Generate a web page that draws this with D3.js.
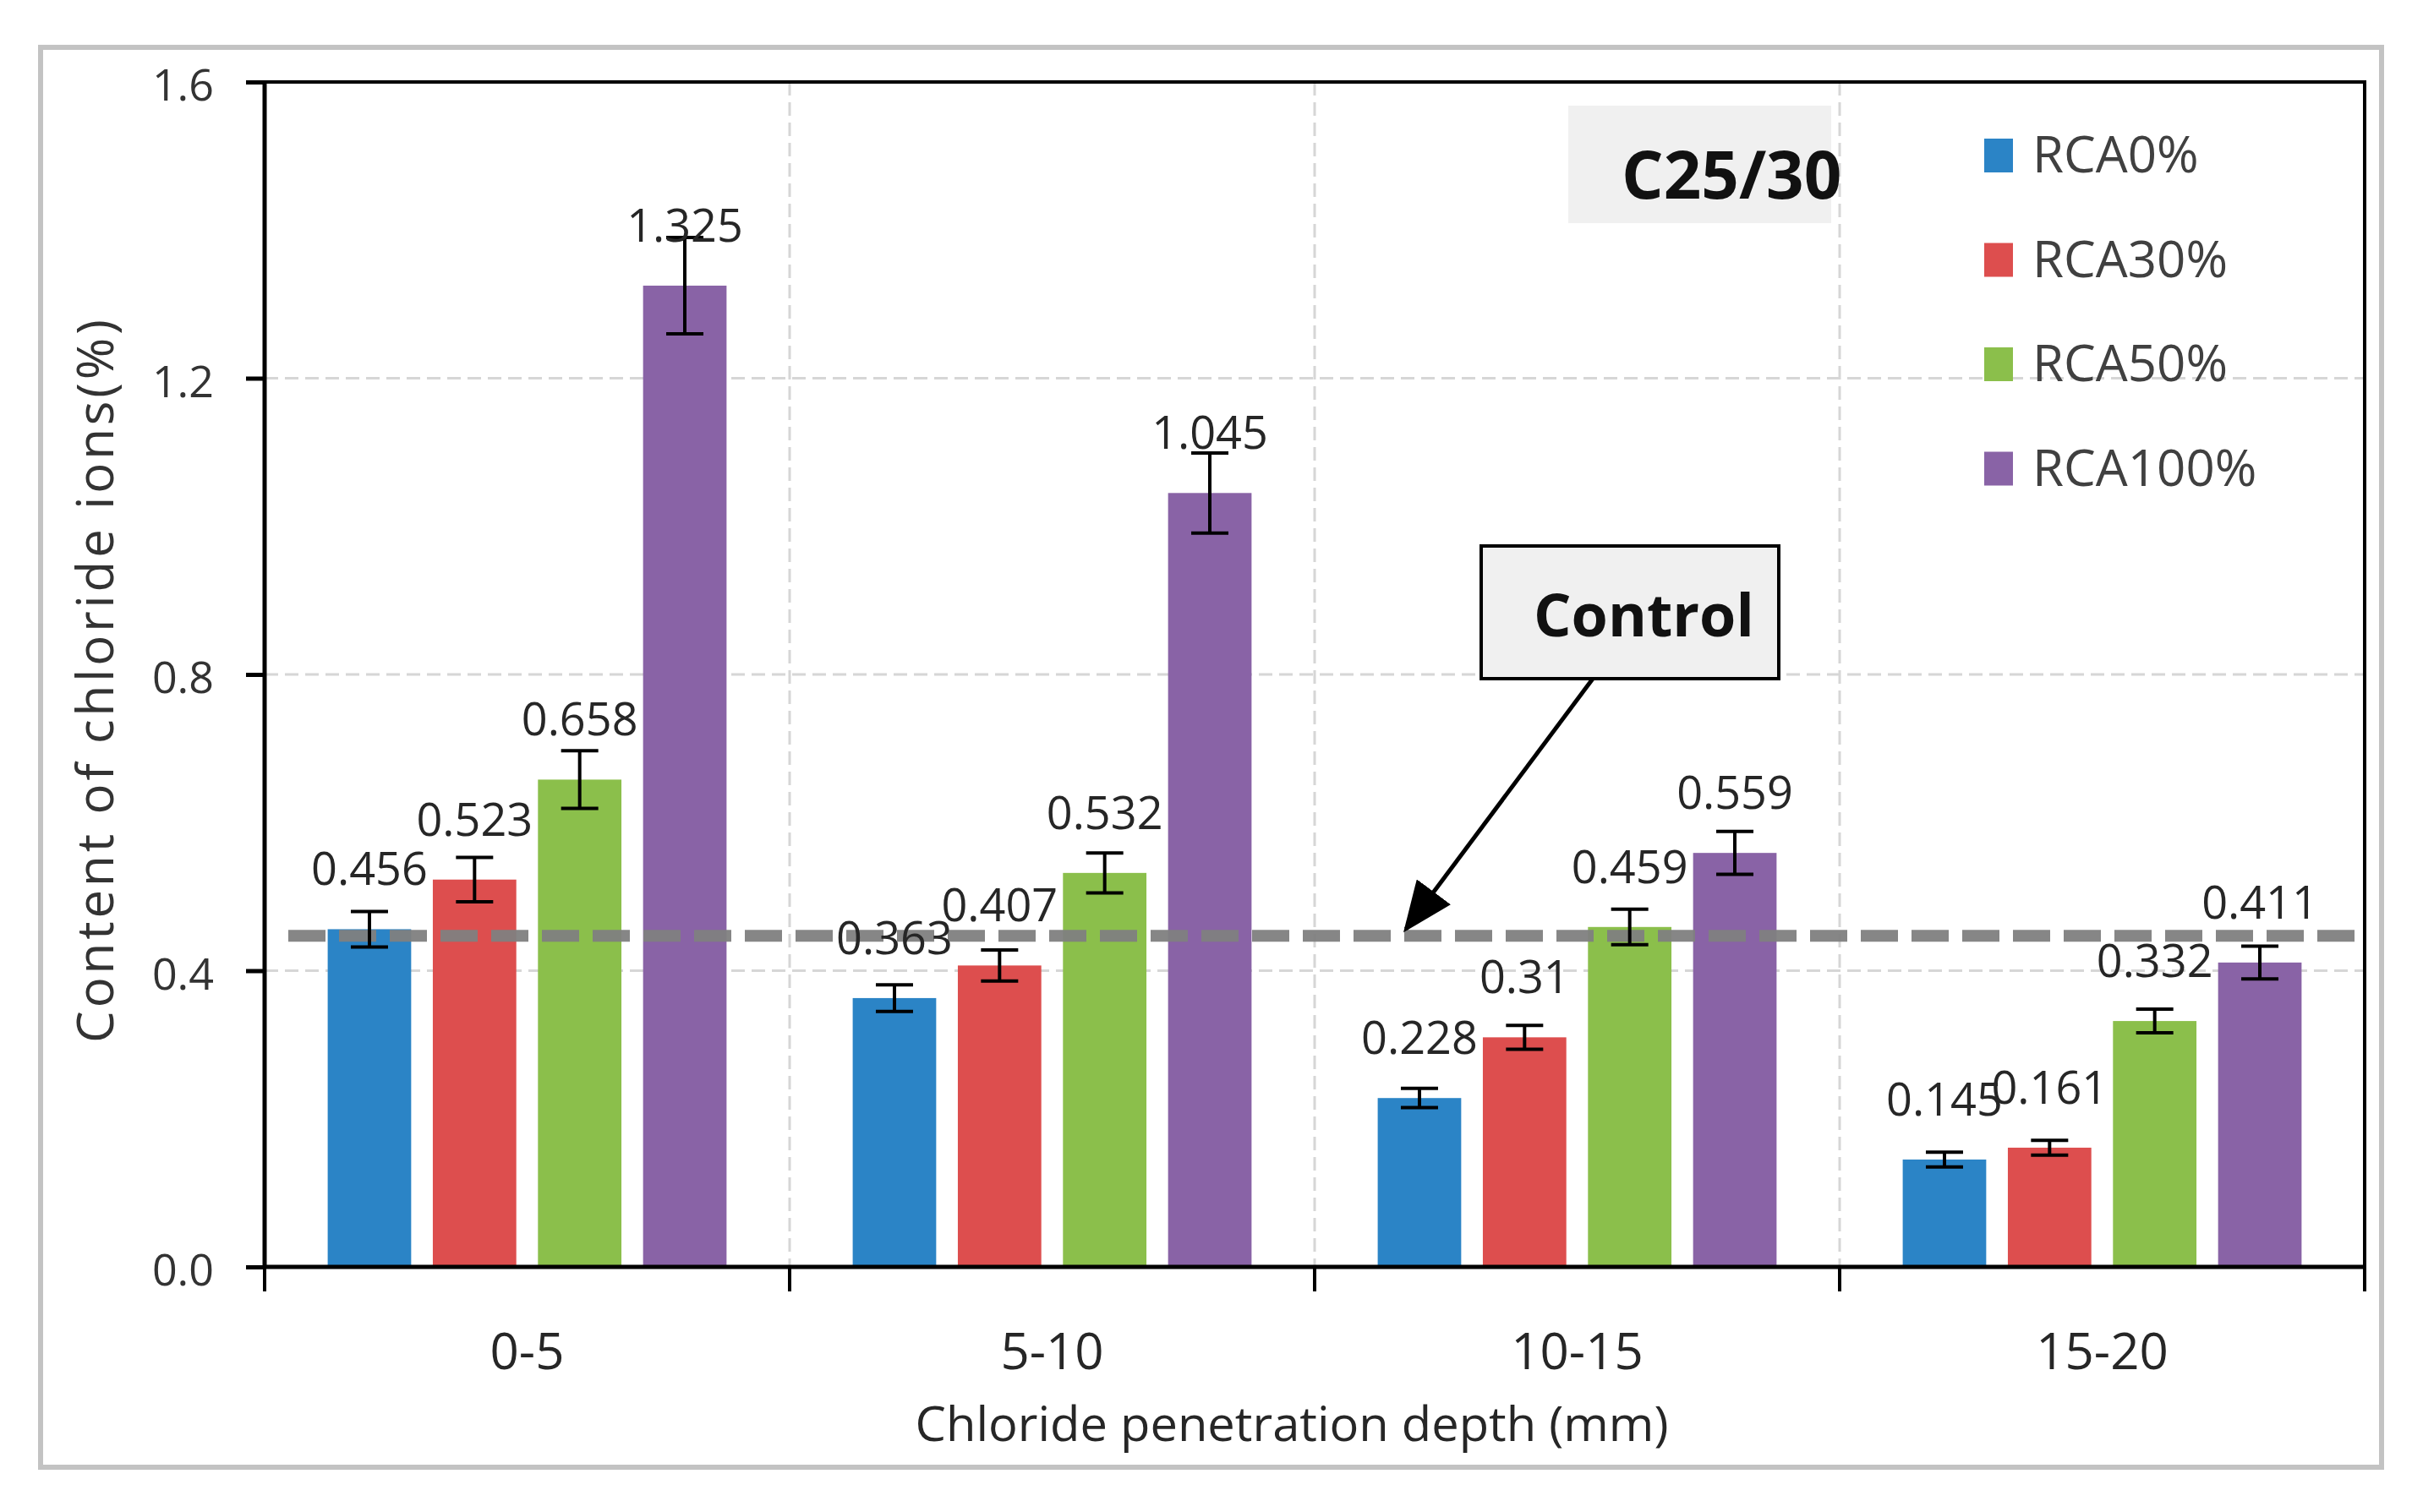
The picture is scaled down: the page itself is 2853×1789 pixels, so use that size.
<!DOCTYPE html>
<html>
<head>
<meta charset="utf-8">
<script src="https://cdn.jsdelivr.net/npm/d3@7"></script>
<style>
  body { margin: 0; background: #fff; }
  text { font-family: "Open Sans", "DejaVu Sans", sans-serif; }
</style>
</head>
<body>
<div id="d3-container"></div>
<script>
// DATA
const depths = ["0-5", "5-10", "10-15", "15-20"];
const series = ["RCA0%", "RCA30%", "RCA50%", "RCA100%"];
const rca0 = [0.456, 0.363, 0.228, 0.145];
const rca30 = [0.523, 0.407, 0.31, 0.161];
const rca50 = [0.658, 0.532, 0.459, 0.332];
const rca100 = [1.325, 1.045, 0.559, 0.411];
const err0 = [0.024, 0.018, 0.013, 0.010];
const err30 = [0.030, 0.021, 0.016, 0.010];
const err50 = [0.039, 0.027, 0.024, 0.016];
const err100 = [0.065, 0.054, 0.029, 0.022];
const yTicks = [0, 0.4, 0.8, 1.2, 1.6];
const controlValue = 0.447;

// CONSTANTS
const width = 2853,
    height = 1789,
    margin = { top: 97, bottom: 290, left: 313, right: 56 };
const colors = ["#2b84c6", "#dd4e4e", "#8bbf4b", "#8963a6"];

const values = [rca0, rca30, rca50, rca100];
const errors = [err0, err30, err50, err100];
const rows = [];
depths.forEach((d, i) => {
    series.forEach((s, j) => {
        rows.push({ depth: d, series: s, value: values[j][i], err: errors[j][i], color: colors[j] });
    });
});

const svg = d3.select("#d3-container")
    .append("svg")
    .attr("width", width)
    .attr("height", height);

// outer frame
svg.append("rect")
    .attr("x", 48).attr("y", 56)
    .attr("width", 2769).attr("height", 1680)
    .attr("fill", "#fff")
    .attr("stroke", "#c3c3c3")
    .attr("stroke-width", 6);

// SCALES
const x0Scale = d3.scaleBand()
    .domain(depths)
    .range([margin.left, width - margin.right])
    .paddingInner(0)
    .paddingOuter(0);

const x1Scale = d3.scaleBand()
    .domain(series)
    .range([0, x0Scale.bandwidth()])
    .paddingInner(0.206)
    .paddingOuter(0.6);

const yScale = d3.scaleLinear()
    .domain([0, 1.6])
    .range([height - margin.bottom, margin.top]);

const plotLeft = margin.left,
    plotRight = width - margin.right,
    plotTop = margin.top,
    plotBottom = height - margin.bottom;

// GRIDLINES
svg.append("g")
    .selectAll("line")
    .data(yTicks.filter(d => d > 0 && d < 1.6))
    .join("line")
    .attr("x1", plotLeft).attr("x2", plotRight)
    .attr("y1", d => yScale(d)).attr("y2", d => yScale(d))
    .attr("stroke", "#d6d6d6")
    .attr("stroke-width", 3)
    .attr("stroke-dasharray", "16 8");

svg.append("g")
    .selectAll("line")
    .data(depths.slice(1))
    .join("line")
    .attr("x1", d => x0Scale(d)).attr("x2", d => x0Scale(d))
    .attr("y1", plotTop).attr("y2", plotBottom)
    .attr("stroke", "#d6d6d6")
    .attr("stroke-width", 3)
    .attr("stroke-dasharray", "16 8");

// BARS
const barX = d => x0Scale(d.depth) + x1Scale(d.series);
svg.append("g")
    .selectAll("rect")
    .data(rows)
    .join("rect")
    .attr("x", barX)
    .attr("y", d => yScale(d.value))
    .attr("width", x1Scale.bandwidth())
    .attr("height", d => yScale(0) - yScale(d.value))
    .attr("fill", d => d.color);

// control line
svg.append("line")
    .attr("x1", plotLeft + 28).attr("x2", plotRight)
    .attr("y1", yScale(controlValue)).attr("y2", yScale(controlValue))
    .attr("stroke", "#808080")
    .attr("stroke-opacity", 0.95)
    .attr("stroke-width", 14)
    .attr("stroke-dasharray", "44 16");

// ERROR BARS
const cx = d => barX(d) + x1Scale.bandwidth() / 2;
const capW = 22;
const eb = svg.append("g").attr("stroke", "#000").attr("stroke-width", 4);
eb.selectAll(".stem").data(rows).join("line")
    .attr("x1", cx).attr("x2", cx)
    .attr("y1", d => yScale(d.value + d.err)).attr("y2", d => yScale(d.value - d.err));
eb.selectAll(".capT").data(rows).join("line")
    .attr("x1", d => cx(d) - capW).attr("x2", d => cx(d) + capW)
    .attr("y1", d => yScale(d.value + d.err)).attr("y2", d => yScale(d.value + d.err));
eb.selectAll(".capB").data(rows).join("line")
    .attr("x1", d => cx(d) - capW).attr("x2", d => cx(d) + capW)
    .attr("y1", d => yScale(d.value - d.err)).attr("y2", d => yScale(d.value - d.err));

// VALUE LABELS
svg.append("g")
    .selectAll("text")
    .data(rows)
    .join("text")
    .attr("x", cx)
    .attr("y", d => yScale(d.value) - 52)
    .attr("text-anchor", "middle")
    .attr("font-size", 54)
    .attr("fill", "#262626")
    .text(d => String(d.value));

// AXES
const yAxis = d3.axisLeft(yScale)
    .tickValues(yTicks)
    .tickFormat(d3.format(".1f"))
    .tickSize(22)
    .tickPadding(38);

svg.append("g")
    .attr("transform", `translate(${plotLeft},0)`)
    .call(yAxis)
    .call(g => g.select(".domain").remove())
    .call(g => g.selectAll("line").attr("stroke", "#000").attr("stroke-width", 5))
    .call(g => g.selectAll("text")
        .attr("font-size", 52)
        .attr("font-family", "Open Sans")
        .attr("fill", "#333")
        .attr("dy", "0.42em"));

const xAxis = d3.axisBottom(x0Scale).tickSize(0);
svg.append("g")
    .attr("transform", `translate(0,${plotBottom})`)
    .call(xAxis)
    .call(g => g.select(".domain").remove())
    .call(g => g.selectAll("text")
        .attr("y", 121)
        .attr("dy", 0)
        .attr("font-size", 60)
        .attr("font-family", "Open Sans")
        .attr("fill", "#262626"));

// tick marks at group boundaries
svg.append("g")
    .selectAll("line")
    .data(depths.map(d => x0Scale(d)).concat([plotRight]))
    .join("line")
    .attr("x1", d => d).attr("x2", d => d)
    .attr("y1", plotBottom).attr("y2", plotBottom + 29)
    .attr("stroke", "#000")
    .attr("stroke-width", 4);

// plot frame
svg.append("path")
    .attr("d", `M${plotLeft},${plotTop}H${plotRight}V${plotBottom}`)
    .attr("fill", "none")
    .attr("stroke", "#000")
    .attr("stroke-width", 4);
svg.append("path")
    .attr("d", `M${plotLeft},${plotTop}V${plotBottom}H${plotRight}`)
    .attr("fill", "none")
    .attr("stroke", "#000")
    .attr("stroke-width", 5);

// axis titles
svg.append("text")
    .attr("x", 1528)
    .attr("y", 1705)
    .attr("text-anchor", "middle")
    .attr("font-size", 56)
    .attr("fill", "#262626")
    .attr("textLength", 891)
    .attr("lengthAdjust", "spacingAndGlyphs")
    .text("Chloride penetration depth (mm)");

svg.append("text")
    .attr("transform", "translate(134,806) rotate(-90)")
    .attr("text-anchor", "middle")
    .attr("font-size", 60)
    .attr("fill", "#333")
    .attr("textLength", 856)
    .attr("lengthAdjust", "spacing")
    .text("Content  of  chloride ions(%)");

// C25/30 tag
svg.append("rect")
    .attr("x", 1855).attr("y", 125)
    .attr("width", 311).attr("height", 139)
    .attr("fill", "#f0f0f0");
svg.append("text")
    .attr("x", 1918).attr("y", 235)
    .attr("font-size", 78)
    .attr("font-weight", "bold")
    .attr("fill", "#111")
    .text("C25/30");

// LEGEND
const legend = svg.append("g")
    .selectAll("g")
    .data(series)
    .join("g")
    .attr("transform", (d, i) => `translate(2347,${204 + i * 123.5})`);
legend.append("rect")
    .attr("x", 0).attr("y", -40)
    .attr("width", 34).attr("height", 40)
    .attr("fill", (d, i) => colors[i]);
legend.append("text")
    .attr("x", 57).attr("y", 0)
    .attr("font-size", 60)
    .attr("fill", "#404040")
    .text(d => d);

// Control annotation
svg.append("defs").append("marker")
    .attr("id", "arrow")
    .attr("viewBox", "0 0 12 10")
    .attr("refX", 11).attr("refY", 5)
    .attr("markerWidth", 12).attr("markerHeight", 10)
    .attr("markerUnits", "strokeWidth")
    .attr("orient", "auto")
    .append("path")
    .attr("d", "M0,0L12,5L0,10Z")
    .attr("fill", "#000");

svg.append("line")
    .attr("x1", 1890).attr("y1", 795)
    .attr("x2", 1663).attr("y2", yScale(controlValue) - 8)
    .attr("stroke", "#000")
    .attr("stroke-width", 5)
    .attr("marker-end", "url(#arrow)");

svg.append("rect")
    .attr("x", 1752).attr("y", 646)
    .attr("width", 352).attr("height", 157)
    .attr("fill", "#f0f0f0")
    .attr("stroke", "#000")
    .attr("stroke-width", 4);
svg.append("text")
    .attr("x", 1814).attr("y", 753)
    .attr("font-size", 70)
    .attr("font-weight", "bold")
    .attr("fill", "#111")
    .text("Control");
</script>
</body>
</html>
